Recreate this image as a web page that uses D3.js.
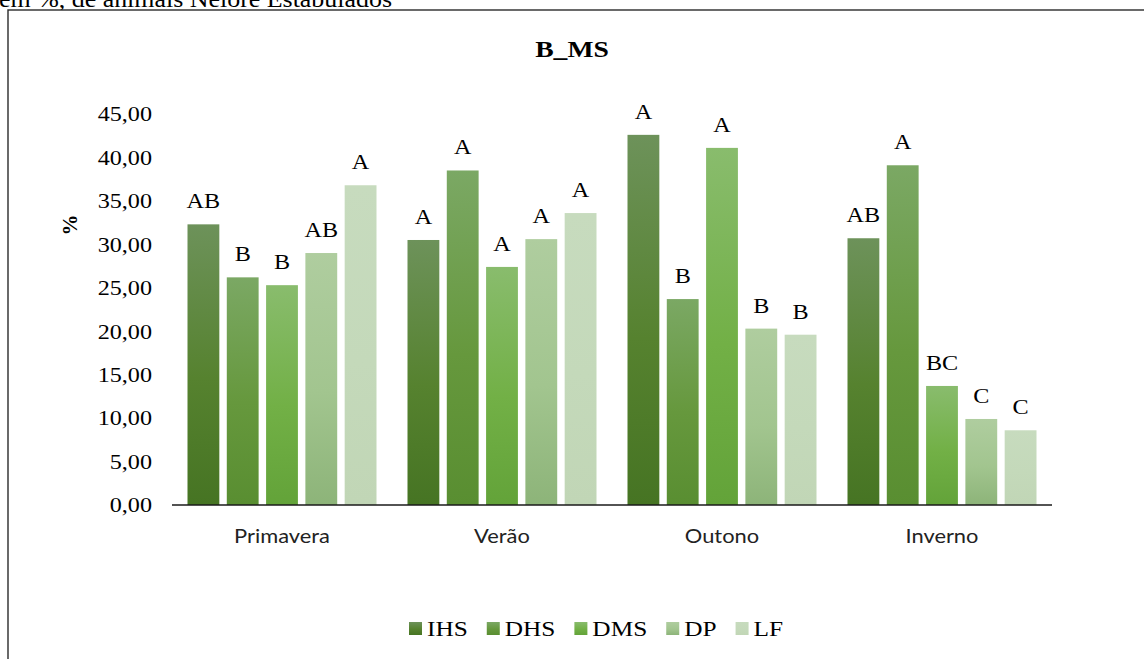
<!DOCTYPE html>
<html>
<head>
<meta charset="utf-8">
<script src="https://cdn.jsdelivr.net/npm/d3@7"></script>
<style>
  html, body { margin: 0; padding: 0; background: #fff; overflow: hidden; }
  svg { display: block; }
  .serif { font-family: "Liberation Serif", "Times New Roman", serif; fill: #000; }
  .sans { font-family: Lato, "Liberation Sans", sans-serif; fill: #222; }
</style>
</head>
<body>
<svg id="chart" width="1144" height="659"></svg>
<script>
// Seasons and treatments
const categories = ["Primavera", "Verão", "Outono", "Inverno"];
const seriesNames = ["IHS", "DHS", "DMS", "DP", "LF"];

// Percent values per season, in treatment order
const ihsValues = [32.3, 30.5, 42.6, 30.7];
const dhsValues = [26.2, 38.5, 23.7, 39.1];
const dmsValues = [25.3, 27.4, 41.1, 13.7];
const dpValues  = [29.0, 30.6, 20.3, 9.9];
const lfValues  = [36.8, 33.6, 19.6, 8.6];

// Significance letters per season, in treatment order
const ihsLetters = ["AB", "A", "A", "AB"];
const dhsLetters = ["B", "A", "B", "A"];
const dmsLetters = ["B", "A", "A", "BC"];
const dpLetters  = ["AB", "A", "B", "C"];
const lfLetters  = ["A", "A", "B", "C"];

// Y axis ticks
const yTicks = [0, 5, 10, 15, 20, 25, 30, 35, 40, 45];

// Gradient stops per treatment (top, middle, bottom)
const palette = [
  ["#6d925a", "#56822f", "#467423"],
  ["#7ba864", "#66983d", "#598e31"],
  ["#89bc6d", "#72b046", "#63a339"],
  ["#afcd9f", "#a2c58f", "#8db479"],
  ["#c7dbbe", "#c4d9ba", "#c1d6b6"]
];

const valuesBySeries = [ihsValues, dhsValues, dmsValues, dpValues, lfValues];
const lettersBySeries = [ihsLetters, dhsLetters, dmsLetters, dpLetters, lfLetters];

const rows = [];
categories.forEach((c, ci) => {
  seriesNames.forEach((s, si) => {
    rows.push({ cat: c, series: s, si, value: valuesBySeries[si][ci], letter: lettersBySeries[si][ci] });
  });
});

const svg = d3.select("#chart");
const STRETCH = 1.15;

// Heading fragment of the surrounding document
svg.append("text").attr("class", "serif stretch")
  .attr("data-stretch", 1.08)
  .attr("x", -1).attr("y", 7)
  .style("font-size", "24px")
  .text("em %, de animais Nelore Estabulados");

// Chart frame
svg.append("rect")
  .attr("x", 8).attr("y", 10)
  .attr("width", 1160).attr("height", 680)
  .attr("fill", "#fff")
  .attr("stroke", "#2b2b2b").attr("stroke-width", 1.4);

const defs = svg.append("defs");
palette.forEach((stops, i) => {
  const g = defs.append("linearGradient")
    .attr("id", "grad" + i)
    .attr("x1", 0).attr("y1", 0).attr("x2", 0).attr("y2", 1);
  g.append("stop").attr("offset", "0%").attr("stop-color", stops[0]);
  g.append("stop").attr("offset", "55%").attr("stop-color", stops[1]);
  g.append("stop").attr("offset", "100%").attr("stop-color", stops[2]);
});

const y = d3.scaleLinear().domain([0, 45]).range([505, 114]);
const x0 = d3.scaleBand().domain(categories).range([172, 1052]).paddingInner(0).paddingOuter(0);
const x1 = d3.scaleBand().domain(seriesNames).range([15.5, x0.bandwidth() - 15.5]).paddingInner(0.19).paddingOuter(0);

// Title
svg.append("text").attr("class", "serif stretch")
  .attr("x", 572).attr("y", 57)
  .attr("text-anchor", "middle")
  .style("font-size", "24px").style("font-weight", "bold")
  .text("B_MS");

// Y tick labels
svg.append("g").selectAll("text").data(yTicks).join("text")
  .attr("class", "serif stretch")
  .attr("x", 152).attr("y", d => y(d))
  .attr("dy", "0.35em")
  .attr("text-anchor", "end")
  .style("font-size", "21px")
  .text(d => d3.format(".2f")(d).replace(".", ","));

// Y axis title
svg.append("text").attr("class", "serif")
  .attr("transform", "translate(77,225) rotate(-90)")
  .attr("text-anchor", "middle")
  .style("font-size", "21px").style("font-weight", "bold")
  .text("%");

// Bars
svg.append("g").selectAll("rect").data(rows).join("rect")
  .attr("x", d => x0(d.cat) + x1(d.series))
  .attr("y", d => y(d.value))
  .attr("width", x1.bandwidth())
  .attr("height", d => y(0) - y(d.value))
  .attr("fill", d => `url(#grad${d.si})`);

// Significance letters
svg.append("g").selectAll("text").data(rows).join("text")
  .attr("class", "serif stretch")
  .attr("x", d => x0(d.cat) + x1(d.series) + x1.bandwidth() / 2)
  .attr("y", d => y(d.value) - 16)
  .attr("text-anchor", "middle")
  .style("font-size", "21px")
  .text(d => d.letter);

// Baseline
svg.append("line")
  .attr("x1", 172).attr("x2", 1052)
  .attr("y1", y(0)).attr("y2", y(0))
  .attr("stroke", "#1a1a1a").attr("stroke-width", 1.5);

// Category labels
svg.append("g").selectAll("text").data(categories).join("text")
  .attr("class", "sans stretch")
  .attr("x", d => x0(d) + x0.bandwidth() / 2)
  .attr("y", 543)
  .attr("text-anchor", "middle")
  .style("font-size", "19px")
  .text(d => d);

// Legend
const legend = svg.append("g");
let lx = 409;
seriesNames.forEach((s, i) => {
  legend.append("rect")
    .attr("x", lx).attr("y", 622).attr("width", 13).attr("height", 13)
    .attr("fill", `url(#grad${i})`);
  const t = legend.append("text").attr("class", "serif stretch")
    .attr("x", lx + 18).attr("y", 636)
    .style("font-size", "22px")
    .text(s);
  const w = t.node().getComputedTextLength() * STRETCH;
  lx += 18 + w + 19;
});

// Widen text horizontally to the chart's proportions
svg.selectAll(".stretch").each(function () {
  const k = +(this.getAttribute("data-stretch") || STRETCH);
  const len = this.getComputedTextLength();
  d3.select(this).attr("textLength", len * k).attr("lengthAdjust", "spacingAndGlyphs");
});
</script>
</body>
</html>
